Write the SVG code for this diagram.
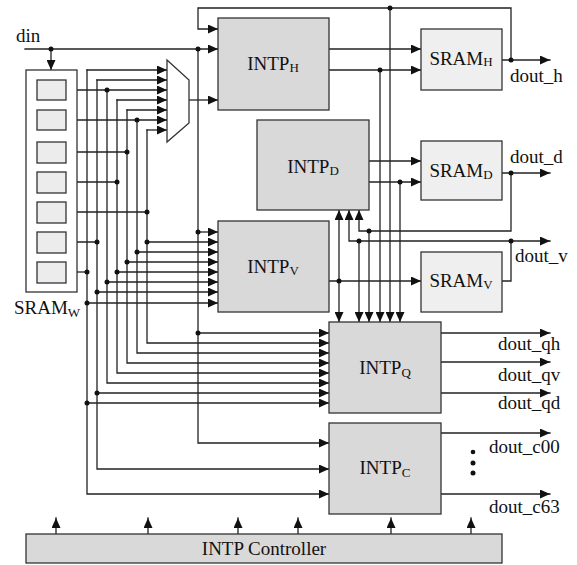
<svg xmlns="http://www.w3.org/2000/svg" width="577" height="565" viewBox="0 0 577 565">
<style>
.bg{fill:#ffffff}
.intp{fill:#d9d9d9;stroke:#333;stroke-width:1.3}
.sram{fill:#efefef;stroke:#333;stroke-width:1.3}
.cell{fill:#ececec;stroke:#333;stroke-width:1.3}
.frame{fill:#ffffff;stroke:#333;stroke-width:1.3}
.w{fill:none;stroke:#222;stroke-width:1.3;stroke-linecap:square}
.a{marker-end:url(#ah)}
.t{font-family:"Liberation Serif","Times New Roman",serif;font-size:19px;fill:#111}
.s{font-size:13px}
.dot{fill:#111}
</style>
<defs>
<marker id="ah" markerWidth="10" markerHeight="9" refX="10" refY="4.5" orient="auto" markerUnits="userSpaceOnUse"><path d="M0,0 L10,4.5 L0,9 z" fill="#111"/></marker>
</defs>
<rect class="bg" x="0" y="0" width="577" height="565"/>

<g id="connectors">
<path class="w a" d="M25,49 H218"/>
<path class="w a" d="M51,49 V70"/>
<path class="w a" d="M511,60 V8 H198 V29 H218"/>
<path class="w a" d="M502,60 H550"/>
<path class="w a" d="M329,49 H421"/>
<path class="w a" d="M329,70 H421"/>
<path class="w a" d="M390,8 V322"/>
<path class="w a" d="M380,70 V322"/>
<path class="w a" d="M400,182 V322"/>
<path class="w a" d="M369,161 H421"/>
<path class="w a" d="M369,182 H421"/>
<path class="w a" d="M502,173 H550"/>
<path class="w a" d="M511,173 V231 H359 V210"/>
<path class="w a" d="M369,231 V322"/>
<path class="w a" d="M502,281 H511 V241 H550"/>
<path class="w a" d="M511,241 H349 V210"/>
<path class="w a" d="M359,241 V322"/>
<path class="w a" d="M329,281 H421"/>
<path class="w a" d="M339,281 V210"/>
<path class="w a" d="M339,281 V322"/>
<path class="w a" d="M189,100 H218"/>
<path class="w a" d="M66,90 H167"/>
<path class="w a" d="M66,120 H167"/>
<path class="w" d="M66,152 H127"/>
<path class="w" d="M66,182 H117"/>
<path class="w" d="M66,212 H147"/>
<path class="w" d="M66,242 H97"/>
<path class="w" d="M66,272 H87"/>
<path class="w a" d="M87,70 H167"/>
<path class="w a" d="M87,70 V494 H329"/>
<path class="w a" d="M87,303 H218"/>
<path class="w a" d="M87,403 H329"/>
<path class="w a" d="M97,80 H167"/>
<path class="w a" d="M97,80 V469 H329"/>
<path class="w a" d="M97,292 H218"/>
<path class="w a" d="M97,393 H329"/>
<path class="w a" d="M107,90 V383 H329"/>
<path class="w a" d="M107,282 H218"/>
<path class="w a" d="M117,100 H167"/>
<path class="w a" d="M117,100 V373 H329"/>
<path class="w a" d="M117,272 H218"/>
<path class="w a" d="M127,110 H167"/>
<path class="w a" d="M127,110 V363 H329"/>
<path class="w a" d="M127,262 H218"/>
<path class="w a" d="M137,120 V353 H329"/>
<path class="w a" d="M137,252 H218"/>
<path class="w a" d="M147,130 H167"/>
<path class="w a" d="M147,130 V343 H329"/>
<path class="w a" d="M147,242 H218"/>
<path class="w a" d="M198,49 V443 H329"/>
<path class="w a" d="M198,232 H218"/>
<path class="w a" d="M198,333 H329"/>
<path class="w a" d="M441,333 H550"/>
<path class="w a" d="M441,362 H550"/>
<path class="w a" d="M441,393 H550"/>
<path class="w a" d="M441,433 H550"/>
<path class="w a" d="M441,494 H550"/>
<path class="w a" d="M56,534 V518"/>
<path class="w a" d="M148,534 V518"/>
<path class="w a" d="M238,534 V518"/>
<path class="w a" d="M298,534 V518"/>
<path class="w a" d="M391,534 V518"/>
<path class="w a" d="M471,534 V518"/>
<circle class="dot" cx="51" cy="49" r="2.5"/>
<circle class="dot" cx="198" cy="49" r="2.5"/>
<circle class="dot" cx="511" cy="60" r="2.5"/>
<circle class="dot" cx="390" cy="8" r="2.5"/>
<circle class="dot" cx="380" cy="70" r="2.5"/>
<circle class="dot" cx="400" cy="182" r="2.5"/>
<circle class="dot" cx="511" cy="173" r="2.5"/>
<circle class="dot" cx="369" cy="231" r="2.5"/>
<circle class="dot" cx="511" cy="241" r="2.5"/>
<circle class="dot" cx="359" cy="241" r="2.5"/>
<circle class="dot" cx="339" cy="281" r="2.5"/>
<circle class="dot" cx="107" cy="90" r="2.5"/>
<circle class="dot" cx="137" cy="120" r="2.5"/>
<circle class="dot" cx="127" cy="152" r="2.5"/>
<circle class="dot" cx="117" cy="182" r="2.5"/>
<circle class="dot" cx="147" cy="212" r="2.5"/>
<circle class="dot" cx="97" cy="242" r="2.5"/>
<circle class="dot" cx="87" cy="272" r="2.5"/>
<circle class="dot" cx="198" cy="232" r="2.5"/>
<circle class="dot" cx="147" cy="242" r="2.5"/>
<circle class="dot" cx="137" cy="252" r="2.5"/>
<circle class="dot" cx="127" cy="262" r="2.5"/>
<circle class="dot" cx="117" cy="272" r="2.5"/>
<circle class="dot" cx="107" cy="282" r="2.5"/>
<circle class="dot" cx="97" cy="292" r="2.5"/>
<circle class="dot" cx="87" cy="303" r="2.5"/>
<circle class="dot" cx="198" cy="333" r="2.5"/>
<circle class="dot" cx="97" cy="393" r="2.5"/>
<circle class="dot" cx="87" cy="403" r="2.5"/>
</g>

<g id="sram_w">
<rect class="frame" x="26" y="70" width="51" height="222"/>
<rect class="cell" x="37" y="80" width="29" height="20"/>
<rect class="cell" x="37" y="110" width="29" height="20"/>
<rect class="cell" x="37" y="142" width="29" height="21"/>
<rect class="cell" x="37" y="172" width="29" height="21"/>
<rect class="cell" x="37" y="202" width="29" height="21"/>
<rect class="cell" x="37" y="232" width="29" height="21"/>
<rect class="cell" x="37" y="262" width="29" height="21"/>
<text class="t" x="14" y="314">SRAM<tspan class="s" dy="3">W</tspan></text>
</g>
<g id="din_label"><text class="t" x="16" y="42">din</text></g>

<g id="mux">
<path d="M167,60 L189,80 L189,123 L167,142 Z" fill="#fff" stroke="#333" stroke-width="1.3"/>
</g>

<g id="intp_h">
<rect class="intp" x="218" y="18" width="111" height="92"/>
<text class="t" x="273" y="70" text-anchor="middle">INTP<tspan class="s" dy="2">H</tspan></text>
</g>
<g id="intp_d">
<rect class="intp" x="257" y="120" width="112" height="90"/>
<text class="t" x="313" y="173" text-anchor="middle">INTP<tspan class="s" dy="2">D</tspan></text>
</g>
<g id="intp_v">
<rect class="intp" x="218" y="221" width="111" height="91"/>
<text class="t" x="273" y="273" text-anchor="middle">INTP<tspan class="s" dy="2">V</tspan></text>
</g>
<g id="intp_q">
<rect class="intp" x="329" y="322" width="112" height="91"/>
<text class="t" x="385" y="374" text-anchor="middle">INTP<tspan class="s" dy="3">Q</tspan></text>
</g>
<g id="intp_c">
<rect class="intp" x="329" y="423" width="112" height="91"/>
<text class="t" x="385" y="474" text-anchor="middle">INTP<tspan class="s" dy="3">C</tspan></text>
</g>
<g id="sram_h">
<rect class="sram" x="421" y="29" width="81" height="61"/>
<text class="t" x="461" y="65" text-anchor="middle">SRAM<tspan class="s" dy="1">H</tspan></text>
</g>
<g id="sram_d">
<rect class="sram" x="421" y="141" width="81" height="59"/>
<text class="t" x="461" y="177" text-anchor="middle">SRAM<tspan class="s" dy="2">D</tspan></text>
</g>
<g id="sram_v">
<rect class="sram" x="421" y="252" width="81" height="60"/>
<text class="t" x="461" y="287" text-anchor="middle">SRAM<tspan class="s" dy="2">V</tspan></text>
</g>
<g id="controller">
<rect class="intp" x="26" y="534" width="476" height="29"/>
<text class="t" x="264" y="555" text-anchor="middle">INTP Controller</text>
</g>

<g id="labels">
<text class="t" x="510" y="82">dout_h</text>
<text class="t" x="510" y="163">dout_d</text>
<text class="t" x="515" y="262">dout_v</text>
<text class="t" x="498" y="350">dout_qh</text>
<text class="t" x="498" y="381">dout_qv</text>
<text class="t" x="498" y="409">dout_qd</text>
<text class="t" x="489" y="453">dout_c00</text>
<text class="t" x="489" y="513">dout_c63</text>
<circle class="dot" cx="473" cy="452" r="2.3"/>
<circle class="dot" cx="473" cy="463" r="2.5"/>
<circle class="dot" cx="473" cy="473" r="2.5"/>
</g>
</svg>
